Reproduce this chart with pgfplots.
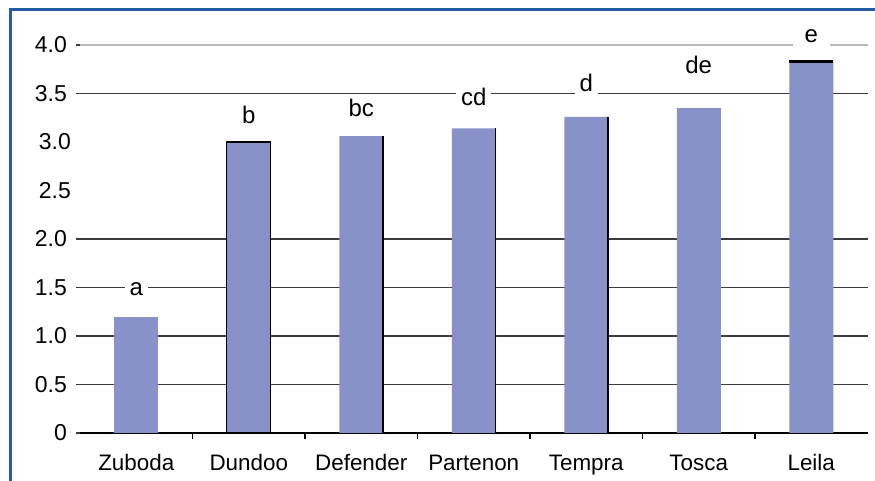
\documentclass[border=0pt]{standalone}
\usepackage{pgfplots}
\pgfplotsset{compat=1.18}
\usepackage{fontspec}
\setmainfont{Liberation Sans}
\definecolor{barblue}{RGB}{136,145,200}
\definecolor{frameblue}{RGB}{38,92,165}
\definecolor{gridgray}{RGB}{60,60,60}

\begin{document}
\begin{tikzpicture}[x=1pt,y=1pt]
\begin{axis}[
  at={(40pt,24pt)}, anchor=south west,
  scale only axis,
  width=393.75pt, height=194pt,
  xmin=-0.5, xmax=6.5, ymin=0, ymax=4,
  axis line style={draw=none},
  ytick={0,0.5,1,1.5,2,3.5,4},
  yticklabels={0,0.5,1.0,1.5,2.0,3.5,4.0},
  extra y ticks={2.5,3},
  extra y tick labels={2.5,3.0},
  extra y tick style={grid=none, major tick length=0pt},
  ymajorgrids,
  major grid style={gridgray, line width=0.7pt},
  y tick style={gridgray, line width=0.7pt},
  tick align=outside,
  tick pos=left,
  major tick length=2pt,
  xtick={0,...,6},
  xticklabels={Zuboda,Dundoo,Defender,Partenon,Tempra,Tosca,Leila},
  x tick style={draw=none},
  minor xtick={0.5,1.5,...,5.5},
  minor x tick style={draw=black, line width=0.6pt},
  minor tick length=3pt,
  xticklabel style={font=\fontsize{11.2}{13}\selectfont, text height=8pt, text depth=2.5pt, yshift=-5pt},
  yticklabel style={font=\fontsize{11.5}{13}\selectfont, xshift=-1pt},
  /pgf/number format/assume math mode=true,
  clip=false,
  ybar, bar width=22pt, bar shift=0pt,
]
\draw[gray!55, line width=0.8pt] (axis cs:-0.5,4) -- (axis cs:6.5,4);
\draw[black, line width=0.7pt] (axis cs:-0.5,0) -- (axis cs:6.5,0);
\addplot[fill=barblue, draw=none] coordinates {(0,1.20)};
\addplot[fill=barblue, draw=black, line width=0.6pt] coordinates {(1,3.00)};
\addplot[fill=barblue, draw=none] coordinates {(2,3.06) (3,3.14) (4,3.26) (5,3.35) (6,3.83)};
\draw[black, line width=1.2pt] (axis cs:5.805,3.83) -- (axis cs:6.195,3.83);
\draw[black, line width=0.7pt] (axis cs:2.195,0) -- (axis cs:2.195,3.06);
\draw[black, line width=0.7pt] (axis cs:3.195,0) -- (axis cs:3.195,3.14);
\draw[black, line width=0.7pt] (axis cs:4.195,0) -- (axis cs:4.195,3.26);
\begin{scope}[every node/.style={fill=white, inner sep=2.5pt, font=\fontsize{12}{14}\selectfont}]
\node at (axis cs:0,1.48) {a};
\node at (axis cs:1,3.28) {b};
\node at (axis cs:2,3.35) {bc};
\node at (axis cs:3,3.46) {cd};
\node at (axis cs:4,3.61) {d};
\node at (axis cs:5,3.79) {de};
\node[inner xsep=6pt] at (axis cs:6,4.09) {e};
\end{scope}
\end{axis}
\draw[frameblue, line width=1.5pt] (5,-20) -- (5,235.5) -- (460,235.5);
\pgfresetboundingbox
\path[use as bounding box] (0,0) rectangle (437.5,240.5);
\end{tikzpicture}
\end{document}
